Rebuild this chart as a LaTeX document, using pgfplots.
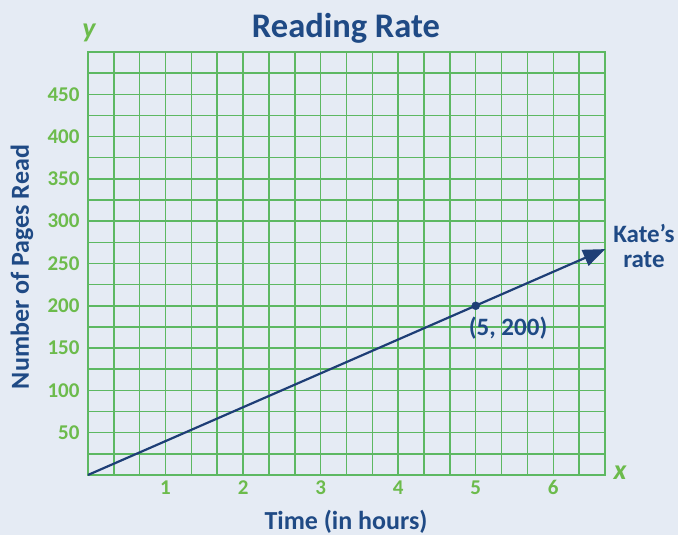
\documentclass[border=0pt]{standalone}
\usepackage{fontspec}
\setmainfont{Carlito}
\usepackage{pgfplots}
\pgfplotsset{compat=1.18}
\usetikzlibrary{arrows.meta}
\definecolor{bg}{HTML}{E5EBF4}
\definecolor{gridgreen}{HTML}{5DB862}
\definecolor{tickgreen}{HTML}{6CBB4C}
\definecolor{navy}{HTML}{1F4A85}
\definecolor{linenavy}{HTML}{1E3E76}
\begin{document}
\begin{tikzpicture}[x=1pt,y=1pt]
\fill[bg] (0,0) rectangle (678,535);
\begin{axis}[at={(88pt,60pt)}, anchor=south west, scale only axis,
  width=517pt, height=423pt,
  xmin=0, xmax=6.6667, ymin=0, ymax=500,
  xtick={1,2,3,4,5,6}, ytick={50,100,...,450},
  minor xtick={0.3333,0.6667,1.3333,1.6667,2.3333,2.6667,3.3333,3.6667,4.3333,4.6667,5.3333,5.6667,6.3333},
  minor ytick={25,75,...,475},
  grid=both,
  major grid style={draw=gridgreen, line width=1.5pt},
  minor grid style={draw=gridgreen, line width=1.5pt},
  axis line style={draw=gridgreen, line width=1.6pt},
  tick style={draw=none},
  /pgf/number format/assume math mode=true,
  ticklabel style={font=\fontsize{21}{21}\selectfont\bfseries, text=tickgreen},
  yticklabel style={xshift=-5pt},
  xticklabel style={yshift=-2pt},
  clip=false,
]
\addplot[linenavy, line width=2.2pt, -{Triangle[length=22pt,width=17pt]}] coordinates {(0,0) (6.67,267)};
\addplot[only marks, mark=*, mark size=4pt, color=linenavy] coordinates {(5,200)};
\node[anchor=north west, text=navy, font=\fontsize{25}{25}\selectfont\bfseries, inner sep=0pt] at (axis cs:5,200) [xshift=-7pt, yshift=-11pt] {(5, 200)};
\end{axis}
\node[text=navy, font=\fontsize{34.5}{34.5}\selectfont\bfseries] at (346,507) {Reading Rate};
\node[text=navy, font=\fontsize{26}{26}\selectfont\bfseries, rotate=90] at (22,268) {Number of Pages Read};
\node[text=navy, font=\fontsize{26}{26}\selectfont\bfseries] at (346,13) {Time (in hours)};
\node[text=tickgreen, font=\fontsize{28}{28}\selectfont\bfseries\itshape] at (89,502) {y};
\node[text=tickgreen, font=\fontsize{28}{28}\selectfont\bfseries\itshape] at (620,62) {x};
\node[text=navy, font=\fontsize{25}{25}\selectfont\bfseries, align=center] at (644,289) {Kate’s\\rate};
\end{tikzpicture}
\end{document}
